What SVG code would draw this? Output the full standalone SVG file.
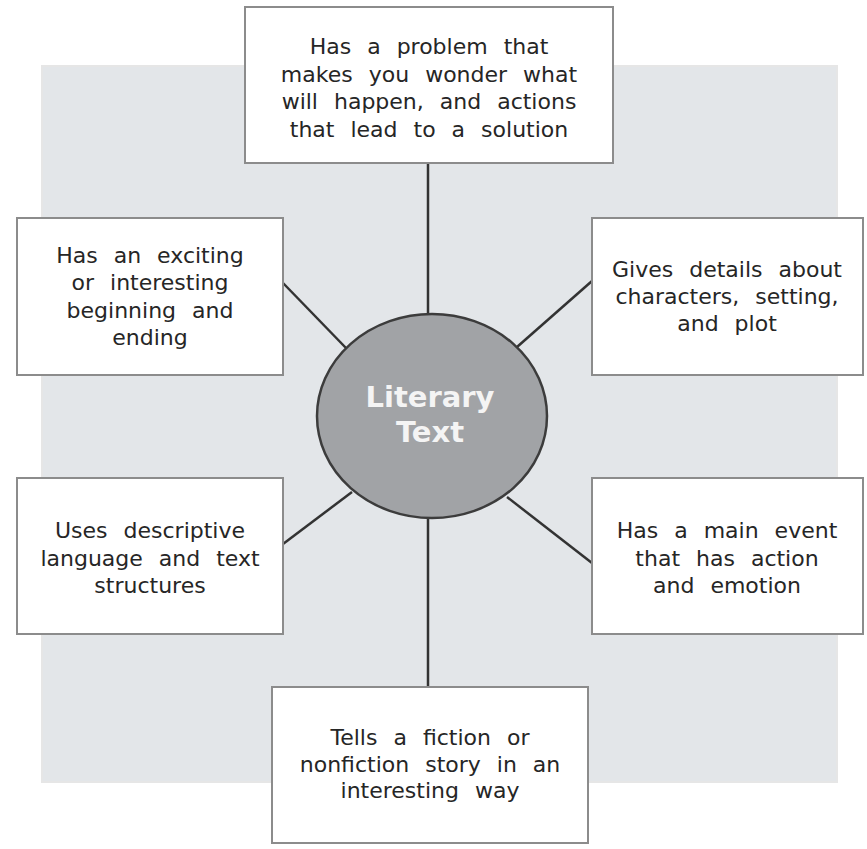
<svg xmlns="http://www.w3.org/2000/svg" width="867" height="849" viewBox="0 0 867 849">
<style>
.box{fill:#ffffff;stroke:#8c8c8c;stroke-width:2}
.t{font-family:"DejaVu Sans",Verdana,sans-serif;font-size:22px;fill:#262626;text-anchor:middle;word-spacing:9px}
.c{stroke:#333333;stroke-width:2.5;fill:none}
.ct{font-family:"DejaVu Sans",Verdana,sans-serif;font-size:29px;font-weight:bold;fill:#f4f4f4;text-anchor:middle}
</style>
<rect x="0" y="0" width="867" height="849" fill="#ffffff"/>
<rect x="42" y="66" width="795" height="716" fill="#e3e6e9" stroke="#e6e6e6" stroke-width="2"/>
<g id="connectors">
<line class="c" x1="428" y1="163" x2="428" y2="315"/>
<line class="c" x1="428" y1="517" x2="428" y2="687"/>
<line class="c" x1="283" y1="283" x2="346" y2="348"/>
<line class="c" x1="592" y1="281" x2="517" y2="347"/>
<line class="c" x1="283" y1="544" x2="352" y2="492"/>
<line class="c" x1="507" y1="497" x2="592" y2="563"/>
</g>
<g id="center">
<ellipse cx="432" cy="416" rx="115" ry="102" fill="#a1a3a6" stroke="#3c3c3c" stroke-width="2.5"/>
<text class="ct" x="430" y="407">Literary</text>
<text class="ct" x="430" y="442">Text</text>
</g>
<g id="top">
<rect class="box" x="245" y="7" width="368" height="156"/>
<text class="t" x="429" y="54">Has a problem that</text>
<text class="t" x="429" y="82">makes you wonder what</text>
<text class="t" x="429" y="109">will happen, and actions</text>
<text class="t" x="429" y="137">that lead to a solution</text>
</g>
<g id="upper-left">
<rect class="box" x="17" y="218" width="266" height="157"/>
<text class="t" x="150" y="263">Has an exciting</text>
<text class="t" x="150" y="290">or interesting</text>
<text class="t" x="150" y="318">beginning and</text>
<text class="t" x="150" y="345">ending</text>
</g>
<g id="upper-right">
<rect class="box" x="592" y="218" width="271" height="157"/>
<text class="t" x="727" y="277">Gives details about</text>
<text class="t" x="727" y="304">characters, setting,</text>
<text class="t" x="727" y="331">and plot</text>
</g>
<g id="lower-left">
<rect class="box" x="17" y="478" width="266" height="156"/>
<text class="t" x="150" y="538">Uses descriptive</text>
<text class="t" x="150" y="566">language and text</text>
<text class="t" x="150" y="593">structures</text>
</g>
<g id="lower-right">
<rect class="box" x="592" y="478" width="271" height="156"/>
<text class="t" x="727" y="538">Has a main event</text>
<text class="t" x="727" y="566">that has action</text>
<text class="t" x="727" y="593">and emotion</text>
</g>
<g id="bottom">
<rect class="box" x="272" y="687" width="316" height="156"/>
<text class="t" x="430" y="745">Tells a fiction or</text>
<text class="t" x="430" y="772">nonfiction story in an</text>
<text class="t" x="430" y="798">interesting way</text>
</g>
</svg>
